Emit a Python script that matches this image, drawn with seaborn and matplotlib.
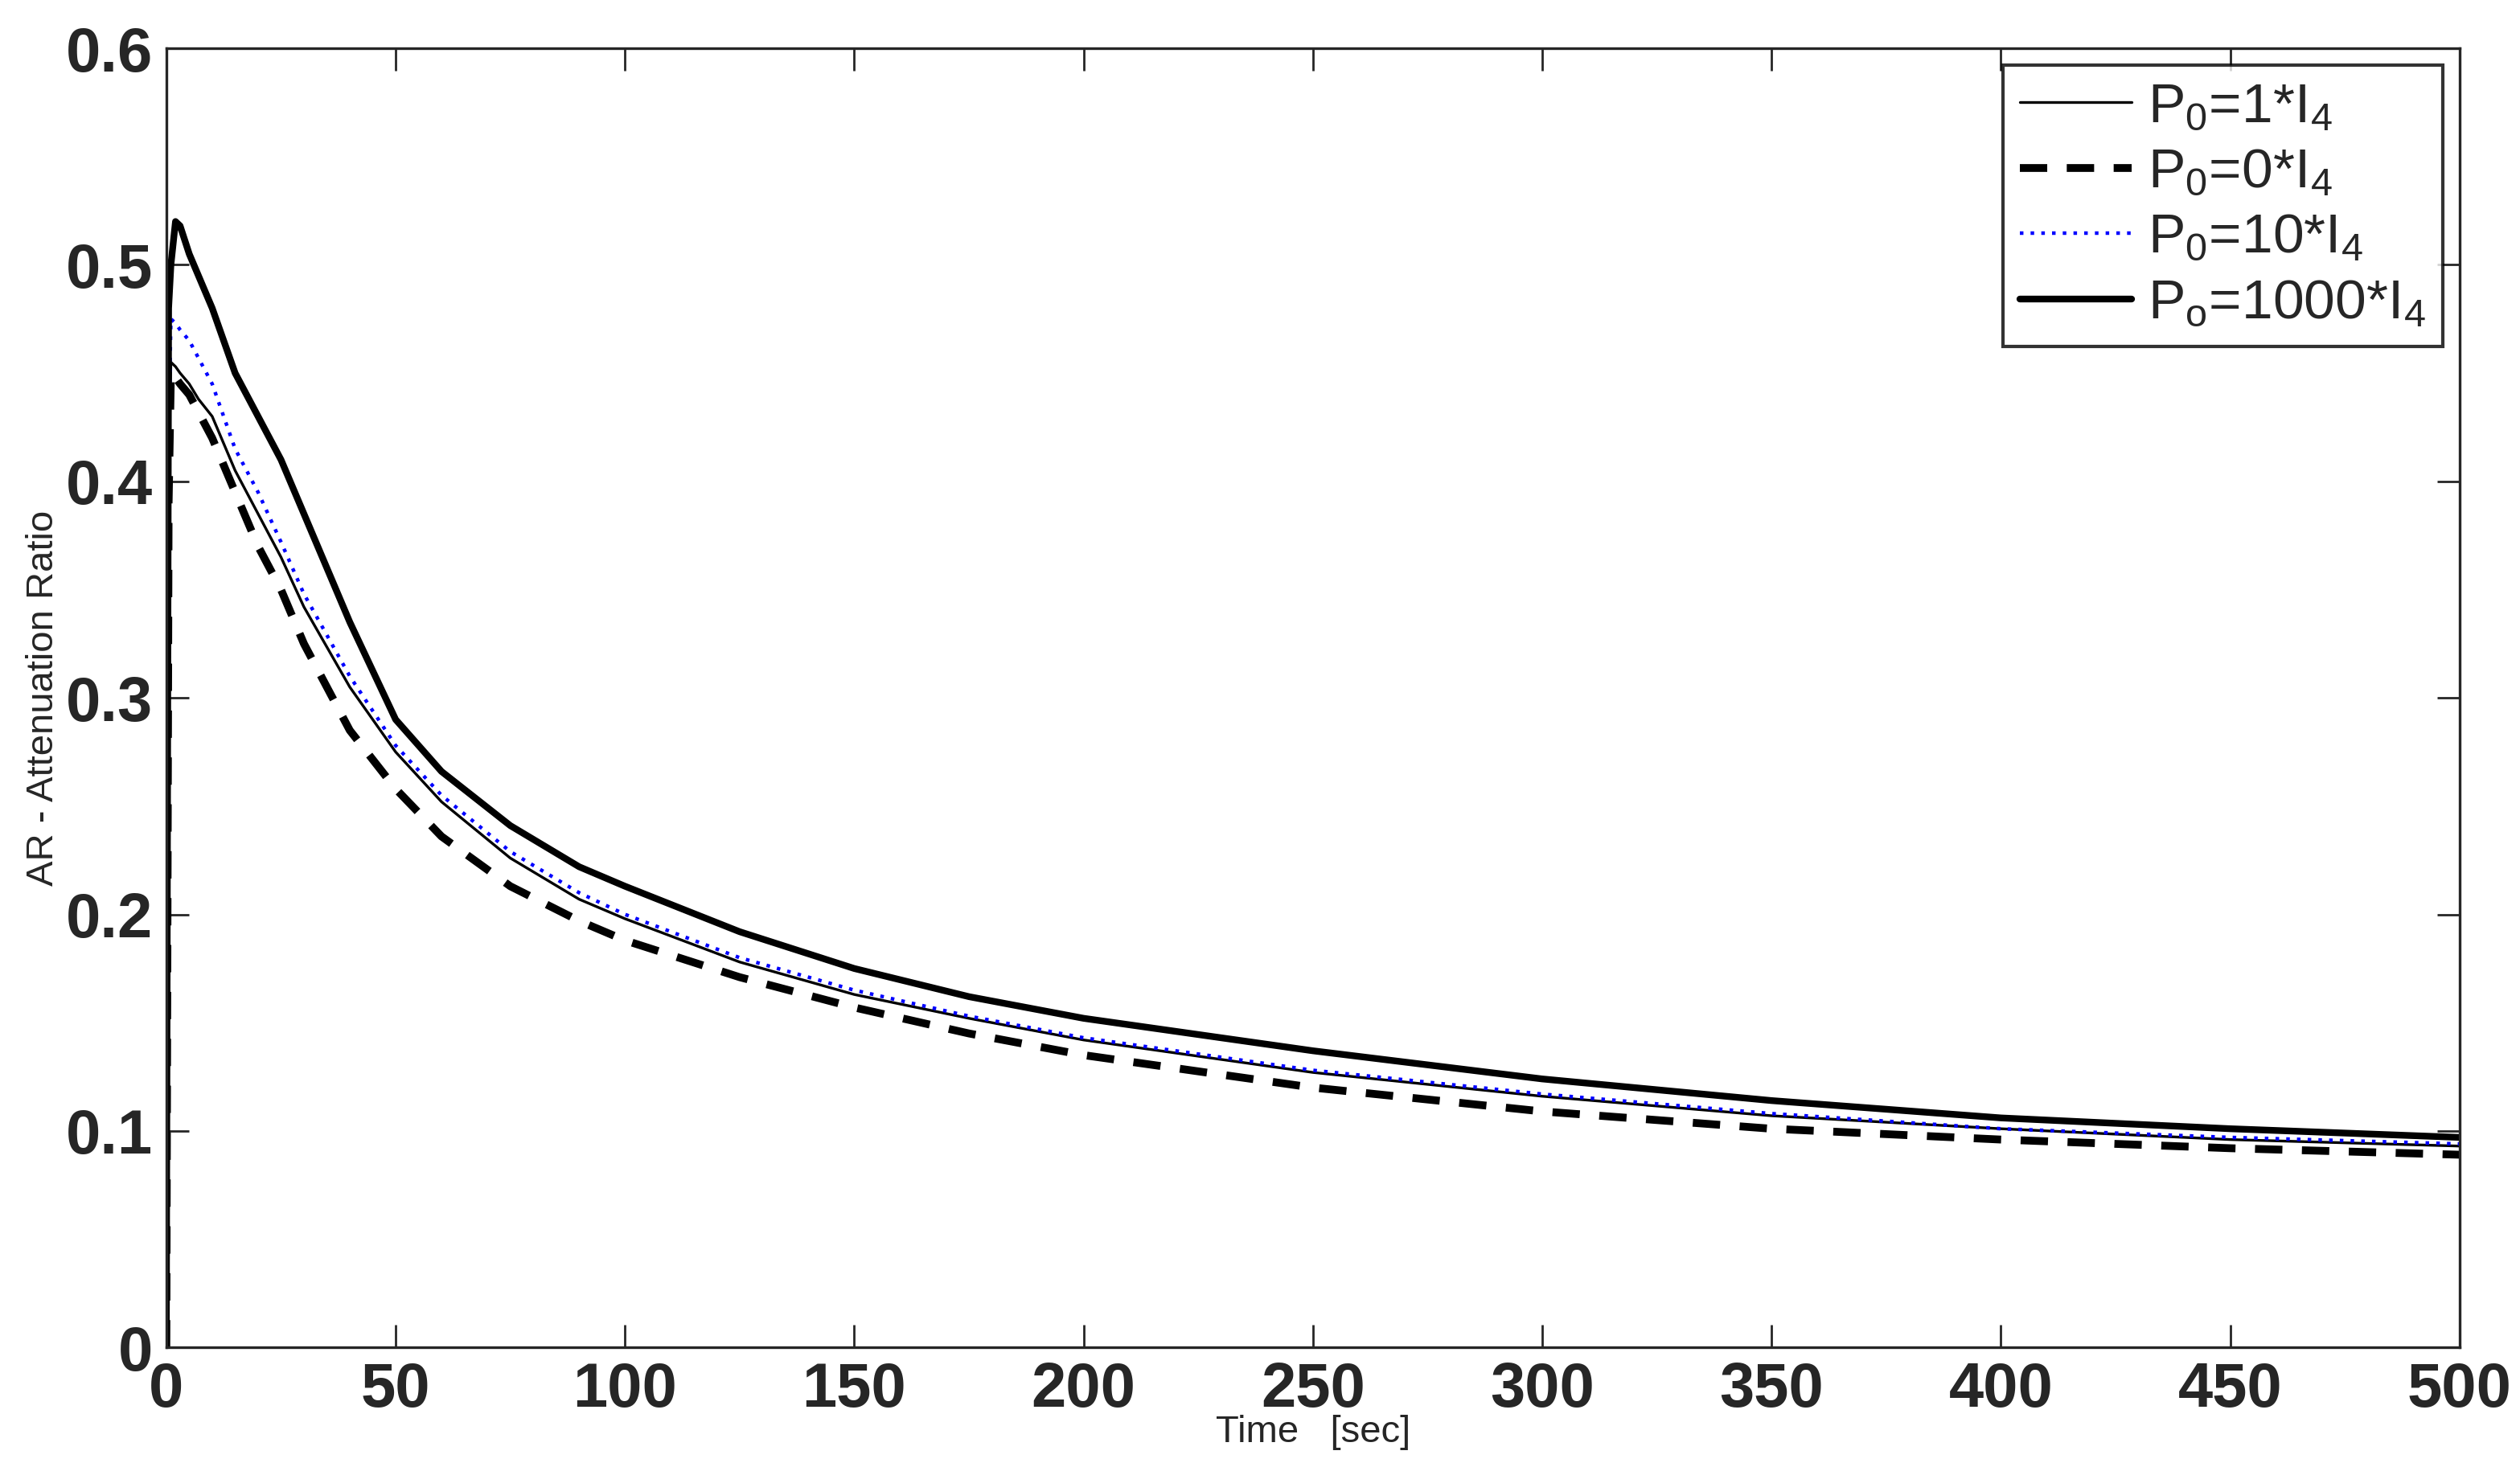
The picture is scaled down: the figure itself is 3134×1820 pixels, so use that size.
import matplotlib
matplotlib.use("Agg")
import matplotlib.pyplot as plt
import seaborn as sns
import pandas as pd

t = [0, 0.5, 1, 2, 3, 5, 7, 10, 15, 20, 25, 30, 40, 50, 60, 75, 90, 100, 125, 150, 175, 200, 250, 300, 350, 400, 450, 500]
p1 = [0, 0.40, 0.455, 0.453, 0.45, 0.445, 0.438, 0.43, 0.405, 0.385, 0.365, 0.342, 0.305, 0.275, 0.252, 0.226, 0.207, 0.198, 0.178, 0.163, 0.152, 0.142, 0.127, 0.116, 0.107, 0.101, 0.096, 0.093]
p0 = [0, 0.39, 0.45, 0.448, 0.445, 0.44, 0.432, 0.42, 0.395, 0.37, 0.35, 0.325, 0.285, 0.258, 0.236, 0.213, 0.197, 0.188, 0.171, 0.157, 0.145, 0.135, 0.12, 0.109, 0.101, 0.096, 0.092, 0.089]
p10 = [0, 0.42, 0.475, 0.473, 0.47, 0.465, 0.457, 0.445, 0.415, 0.395, 0.372, 0.348, 0.31, 0.278, 0.255, 0.229, 0.21, 0.2, 0.18, 0.165, 0.153, 0.143, 0.128, 0.117, 0.108, 0.101, 0.097, 0.094]
p1000 = [0, 0.48, 0.50, 0.52, 0.518, 0.505, 0.495, 0.48, 0.45, 0.43, 0.41, 0.385, 0.335, 0.29, 0.266, 0.241, 0.222, 0.213, 0.192, 0.175, 0.162, 0.152, 0.137, 0.124, 0.114, 0.106, 0.101, 0.097]
labels = [r"$\mathregular{P_0}$=1*$\mathregular{I_4}$", r"$\mathregular{P_0}$=0*$\mathregular{I_4}$",
          r"$\mathregular{P_0}$=10*$\mathregular{I_4}$", r"$\mathregular{P_o}$=1000*$\mathregular{I_4}$"]

sns.set_style("ticks")
plt.rcParams['font.family'] = ['Liberation Sans', 'DejaVu Sans']
fig = plt.figure(figsize=(15.67, 9.1), dpi=200)
ax = fig.add_axes([0.066, 0.079, 0.91, 0.888])

series = [(p1, "black", "-", 1.2), (p0, "black", (0, (3.5, 2.5)), 3.5), (p10, "blue", (0, (1, 2)), 1.6), (p1000, "black", "-", 3.0)]
for (vals, c, ls, lw), lab in zip(series, labels):
    df = pd.DataFrame({"t": t, "v": vals})
    sns.lineplot(data=df, x="t", y="v", ax=ax, color=c, linestyle=ls, linewidth=lw, label=lab)

ax.set_xlim(0, 500)
ax.set_ylim(0, 0.6)
ax.set_xticks(range(0, 501, 50))
ax.set_yticks([0, 0.1, 0.2, 0.3, 0.4, 0.5, 0.6])
ax.set_yticklabels(["0", "0.1", "0.2", "0.3", "0.4", "0.5", "0.6"])
ax.tick_params(direction="in", top=True, right=True, length=10, width=1, labelsize=28, pad=6)
for l in ax.get_xticklabels() + ax.get_yticklabels():
    l.set_fontweight("bold")
for s in ax.spines.values():
    s.set_linewidth(1.2)
ax.set_xlabel("Time   [sec]", fontsize=17, labelpad=-2)
ax.set_ylabel("AR - Attenuation Ratio", fontsize=17, labelpad=2)
leg = ax.legend(loc="upper right", fontsize=25, frameon=True, fancybox=False, edgecolor="black",
                handlelength=2.0, handletextpad=0.3, labelspacing=0.25, borderaxespad=0.3, borderpad=0.3)
leg.get_frame().set_linewidth(1.5)
fig.savefig("out.png", dpi=200)
